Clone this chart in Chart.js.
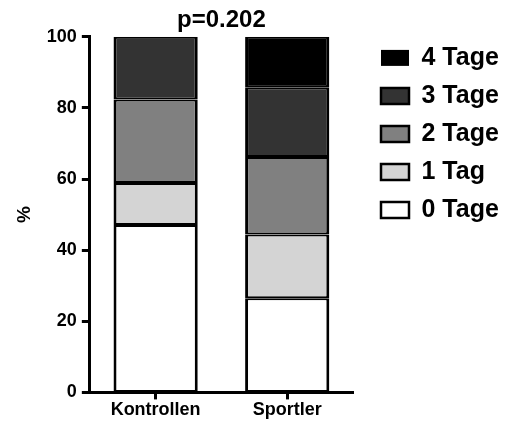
<!DOCTYPE html>
<html>
<head>
<meta charset="utf-8">
<script src="https://cdn.jsdelivr.net/npm/chart.js@4"></script>
<style>
  html,body{margin:0;padding:0;background:#fff;}
  #chart{display:block;}
</style>
</head>
<body>
<canvas id="chart" width="524" height="421"></canvas>
<script>
// ===== Data =====
const groups = ["Kontrollen", "Sportler"];
const tage0 = [47.1, 26.5];
const tage1 = [11.8, 17.9];
const tage2 = [23.5, 21.8];
const tage3 = [17.6, 19.6];
const tage4 = [0, 14.2];
const yTicks = [0, 20, 40, 60, 80, 100];

const FONT = "'Liberation Sans', Arial, sans-serif";
const LEGEND_W = 156;

function ds(label, data, color){
  return {label:label, data:data, backgroundColor:color, borderColor:"#000",
    borderWidth:(ctx)=> ctx.raw ? {left:3, right:3, top:2, bottom:2} : 0,
    borderSkipped:false, barPercentage:0.64, categoryPercentage:1};
}

// empty box between plot and legend + fixed legend width
const legendGap = {
  id:"legendGap",
  beforeInit(chart){
    Chart.layouts.addBox(chart, {
      position:"right", weight:500, fullSize:false, options:{},
      width:15, height:0, left:0, top:0, right:0, bottom:0,
      update(){ this.width = 15; this.height = 0; },
      isHorizontal(){ return false; },
      getPadding(){ return {left:0, right:0, top:0, bottom:0}; },
      draw(){},
      _layers(){ return [{z:0, draw(){}}]; }
    });
  },
  beforeUpdate(chart){
    const lg = chart.legend;
    if(lg && !lg._fixedW){
      const fit = lg.fit.bind(lg);
      lg.fit = function(){ fit(); this.width = LEGEND_W; };
      lg._fixedW = true;
    }
  }
};

new Chart(document.getElementById("chart"), {
  type:"bar",
  data:{
    labels:groups,
    datasets:[
      ds("0 Tage", tage0, "#ffffff"),
      ds("1 Tag", tage1, "#d4d4d4"),
      ds("2 Tage", tage2, "#808080"),
      ds("3 Tage", tage3, "#333333"),
      ds("4 Tage", tage4, "#000000")
    ]
  },
  plugins:[legendGap],
  options:{
    responsive:false,
    animation:false,
    layout:{padding:{left:13, right:0, top:6, bottom:0}},
    plugins:{
      tooltip:{enabled:false},
      title:{display:true, fullSize:false, text:"p=0.202", color:"#000",
        font:{family:FONT, size:24, weight:"bold"}, padding:{top:0, bottom:2}},
      legend:{
        position:"right", align:"start", reverse:true, fullSize:true,
        title:{display:true, text:" ", font:{size:12}, padding:{top:12, bottom:0}},
        labels:{color:"#000", boxWidth:28, boxHeight:16, padding:13,
          font:{family:FONT, size:25, weight:"bold"}}
      }
    },
    scales:{
      x:{
        stacked:true,
        grid:{display:true, drawOnChartArea:false, offset:false, tickLength:7, tickWidth:3, tickColor:"#000"},
        border:{display:true, color:"#000", width:3},
        ticks:{color:"#000", padding:0, font:{family:FONT, size:18, weight:"bold"}}
      },
      y:{
        stacked:true, min:0, max:100,
        afterBuildTicks:(axis)=>{ axis.ticks = yTicks.map(v=>({value:v})); },
        grid:{display:true, drawOnChartArea:false, tickLength:8, tickWidth:3, tickColor:"#000"},
        border:{display:true, color:"#000", width:3},
        ticks:{color:"#000", padding:5, font:{family:FONT, size:18, weight:"bold"}},
        title:{display:true, text:"%", color:"#000", padding:{top:0, bottom:6},
          font:{family:FONT, size:19, weight:"bold"}}
      }
    }
  }
});
</script>
</body>
</html>
